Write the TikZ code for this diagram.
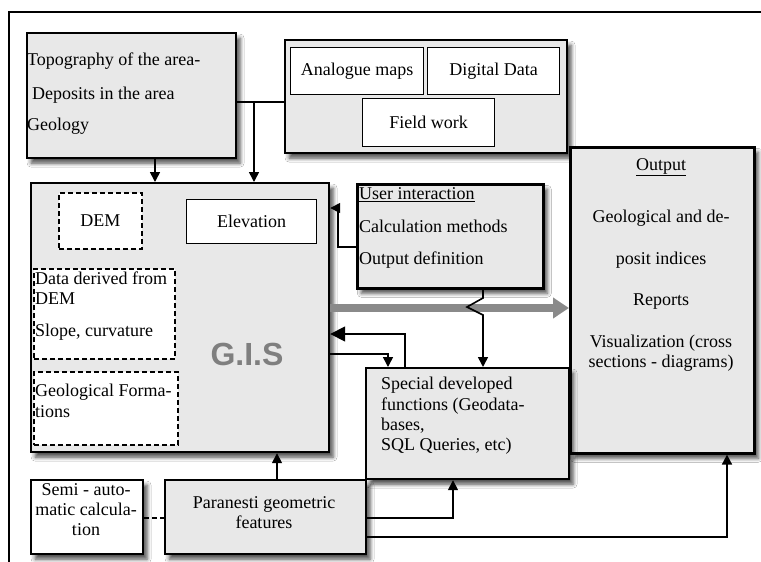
\documentclass[tikz,border=0pt]{standalone}
\usepackage{fontspec}
\setmainfont{Liberation Serif}
\newfontfamily\gisfont{Liberation Sans}
\usetikzlibrary{arrows.meta,shadows.blur}
\definecolor{boxgray}{HTML}{E8E8E8}
\definecolor{arrgray}{HTML}{8A8A8A}
\definecolor{gistxt}{HTML}{7F7F7F}
\begin{document}
\begin{tikzpicture}[x=1pt,y=-1pt,
  shad/.style={blur shadow={shadow xshift=4pt,shadow yshift=-5pt,shadow blur radius=4pt,shadow opacity=70}},
  mainbox/.style={draw,line width=2.2pt,fill=boxgray,shad,anchor=north west,inner sep=0pt},
  wbox/.style={draw,line width=1.4pt,fill=white,anchor=north west,inner sep=0pt,font=\fontsize{18}{20}\selectfont},
  dbox/.style={draw,line width=1.6pt,fill=white,dash pattern=on 5pt off 3pt,anchor=north west,inner sep=0pt,font=\fontsize{18}{20}\selectfont},
  txt/.style={inner sep=0pt,font=\fontsize{18}{20}\selectfont},
  ltxt/.style={txt,anchor=mid west},
  ctxt/.style={txt,anchor=mid},
  arr/.style={line width=1.6pt,-{Triangle[length=10pt,width=10pt]}},
  bigarr/.style={line width=1.6pt,-{Triangle[length=15pt,width=15pt]}},
  plain/.style={line width=1.6pt}
]
\useasboundingbox (0,0) rectangle (761,562);
\fill[white] (0,0) rectangle (761,562);
% outer frame
\draw[line width=2pt] (9,562) -- (9,12) -- (761,12);

% boxes
\node[mainbox,minimum width=209pt,minimum height=125pt] (topo) at (26,32) {};
\node[mainbox,minimum width=282pt,minimum height=113pt] (data) at (284,39) {};
\node[wbox,minimum width=133pt,minimum height=47pt] (analog) at (290,47) {Analogue maps};
\node[wbox,minimum width=132pt,minimum height=47pt] (digital) at (427,47) {Digital Data};
\node[wbox,minimum width=132pt,minimum height=48pt] (field) at (362,98) {Field work};

\node[mainbox,minimum width=298pt,minimum height=269pt] (gis) at (30,182) {};
\node[dbox,minimum width=83pt,minimum height=56pt] (dem) at (58,192) {DEM};
\node[wbox,minimum width=130pt,minimum height=44pt] (elev) at (186,199) {Elevation};
\node[dbox,minimum width=141pt,minimum height=90pt] (derived) at (33,268) {};
\node[dbox,minimum width=144pt,minimum height=73pt] (geoform) at (33,371) {};
\node[inner sep=0pt,anchor=mid,font=\gisfont\bfseries\fontsize{32}{36}\selectfont,text=gistxt] (gistext) at (247,363) {G.I.S};

\node[mainbox,line width=2.6pt,minimum width=186pt,minimum height=104pt] (user) at (356,183) {};
\node[mainbox,line width=2.6pt,minimum width=184pt,minimum height=306pt] (output) at (569,146) {};
\node[mainbox,minimum width=203pt,minimum height=111pt] (special) at (365,367) {};
\node[mainbox,fill=white,minimum width=112pt,minimum height=74pt] (semi) at (30,479) {};
\node[mainbox,minimum width=201pt,minimum height=74pt] (paran) at (164,479) {};

% texts
\node[ltxt] (t1) at (27,63) {Topography of the area-};
\node[ltxt] (t2) at (32,97) {Deposits in the area};
\node[ltxt] (t3) at (27,128) {Geology};

\node[ltxt] (d1) at (35,282) {Data derived from};
\node[ltxt] (d2) at (35,302) {DEM};
\node[ltxt] (d3) at (35,334) {Slope, curvature};
\node[ltxt] (g1) at (35,394) {Geological Forma-};
\node[ltxt] (g2) at (35,415) {tions};

\node[ltxt] (u1) at (359,197) {\underline{User interaction}};
\node[ltxt] (u2) at (359,230) {Calculation methods};
\node[ltxt] (u3) at (359,262) {Output definition};

\node[ctxt] (o1) at (661,168) {\underline{Output}};
\node[ctxt] (o2) at (661,220) {Geological and de-};
\node[ctxt] (o3) at (661,262) {posit indices};
\node[ctxt] (o4) at (661,303) {Reports};
\node[ctxt] (o5) at (661,345) {Visualization (cross};
\node[ctxt] (o6) at (661,365) {sections - diagrams)};

\node[ltxt] (s1) at (381,387) {Special developed};
\node[ltxt] (s2) at (381,408) {functions (Geodata-};
\node[ltxt] (s3) at (381,428) {bases,};
\node[ltxt] (s4) at (381,448) {SQL Queries, etc)};

\node[ctxt] (m1) at (86,493) {Semi - auto-};
\node[ctxt] (m2) at (86,513) {matic calcula-};
\node[ctxt] (m3) at (86,533) {tion};

\node[ctxt] (p1) at (264,506) {Paranesti geometric};
\node[ctxt] (p2) at (264,526) {features};

% connectors
\coordinate (j) at (254,102);
\draw[plain] (topo.east |- j) -- (data.west |- j);
\draw[arr] (j) -- (gis.north -| j);
\draw[arr] (topo.south -| 155,0) -- (gis.north -| 155,0);
\draw[arr] (user.west |- 0,247) -- (338,247) -- (338,208) -- (gis.east |- 0,208);
\draw[line width=8pt,arrgray,-{Triangle[length=16pt,width=20pt]}] (gis.east |- 0,308) -- (output.west |- 0,308);
\draw[arr] (user.south -| 483,0) -- (483,298) -- (467,307) -- (483,315) -- (special.north -| 483,0);
\draw[bigarr] (special.north -| 405,0) -- (405,334) -- (gis.east |- 0,334);
\draw[arr] (gis.east |- 0,354) -- (388,354) -- (special.north -| 388,0);
\draw[arr] (paran.north -| 277,0) -- (gis.south -| 277,0);
\draw[line width=1.6pt,dash pattern=on 5pt off 3pt] (semi.east |- 0,518) -- (paran.west |- 0,518);
\draw[arr] (paran.east |- 0,518) -- (453,518) -- (special.south -| 453,0);
\draw[arr] (paran.east |- 0,537) -- (727,537) -- (output.south -| 727,0);
\end{tikzpicture}
\end{document}
